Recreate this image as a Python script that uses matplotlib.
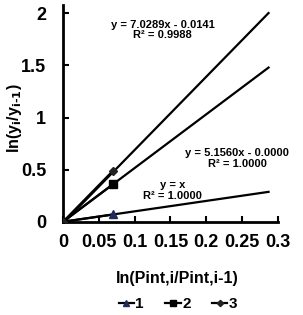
import matplotlib
matplotlib.use("Agg")
import matplotlib.pyplot as plt
import numpy as np

plt.rcParams['font.family'] = ['Liberation Sans', 'DejaVu Sans']
plt.rcParams['font.weight'] = 'bold'

# data
x_pts = [0.0, 0.0698]
y1 = [0.0, 0.0698]
y2 = [0.0, 0.36]
y3 = [0.0, 0.49]
series_names = ['1', '2', '3']
slopes = [1.0, 5.1560, 7.0289]
intercepts = [0.0, 0.0, -0.0141]
trend_xmax = 0.287
eq_texts = ["y = x\nR² = 1.0000", "y = 5.1560x - 0.0000\nR² = 1.0000", "y = 7.0289x - 0.0141\nR² = 0.9988"]
eq_pos = [(0.153, 0.30), (0.243, 0.61), (0.139, 1.84)]
xticks = [0, 0.05, 0.1, 0.15, 0.2, 0.25, 0.3]
xtick_labels = ['0', '0.05', '0.1', '0.15', '0.2', '0.25', '0.3']
yticks = [0, 0.5, 1, 1.5, 2]
ytick_labels = ['0', '0.5', '1', '1.5', '2']

fig = plt.figure(figsize=(3.03, 3.15), dpi=100)
ax = fig.add_axes([0.208, 0.296, 0.709, 0.688])

# trendlines
xt = np.array([0.0, trend_xmax])
for s, b in zip(slopes, intercepts):
    ax.plot(xt, s * xt + b, color='black', lw=1.6, zorder=2)

markers = ['^', 's', 'D']
mcolors = ['#1f2a5a', 'black', '#222222']
msizes = [6, 6, 4]
handles = []
for ys, m, c, ms, name in zip([y1, y2, y3], markers, mcolors, msizes, series_names):
    h, = ax.plot(x_pts, ys, color='black', lw=1.6, marker=m, markersize=ms,
                 markerfacecolor=c, markeredgecolor=c, label=name, zorder=3)
    handles.append(h)

for t, (tx, ty) in zip(eq_texts, eq_pos):
    ax.text(tx, ty, t, ha='center', va='center', fontsize=8, fontweight='bold',
            linespacing=1.1)

ax.set_xlim(0, 0.3)
ax.set_ylim(0, 2.08)
ax.set_xticks(xticks)
ax.set_xticklabels(xtick_labels)
ax.set_yticks(yticks)
ax.set_yticklabels(ytick_labels)
ax.tick_params(direction='in', length=4, width=1.5, labelsize=13)
ax.tick_params(axis='x', pad=9)
ax.tick_params(axis='y', pad=12)
for sp in ['top', 'right']:
    ax.spines[sp].set_visible(False)
for sp in ['left', 'bottom']:
    ax.spines[sp].set_linewidth(2)

fig.text(177 / 303, 1 - 278 / 315, 'ln(Pint,i/Pint,i-1)', fontsize=11.5,
         fontweight='bold', ha='center', va='center')
fig.text(14 / 303, 1 - 118 / 315, r'ln(y$_{\mathbf{i}}$/y$_{\mathbf{i\text{-}1}}$)',
         fontsize=11.5, fontweight='bold', ha='center', va='center', rotation=90)

leg = fig.legend(handles=handles, loc='center', bbox_to_anchor=(178 / 303, 1 - 304 / 315), ncol=3,
                 frameon=False, fontsize=11, handlelength=1.0, handletextpad=0.1,
                 columnspacing=1.4, markerscale=0.8)

fig.savefig('out.png', dpi=100)
